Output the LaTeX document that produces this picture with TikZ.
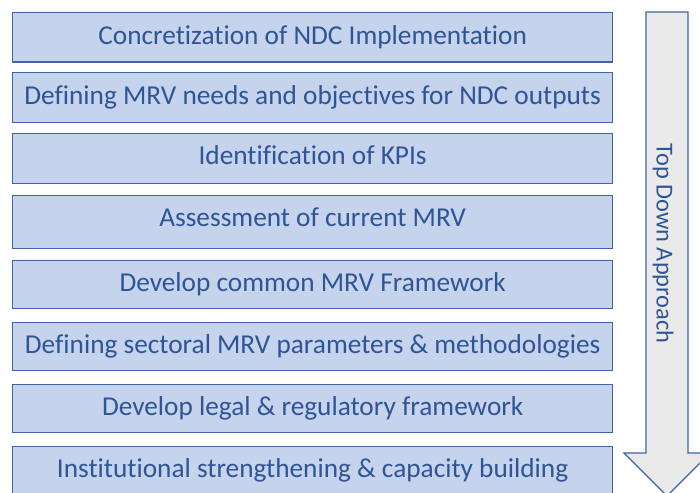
\documentclass[tikz,border=0pt]{standalone}
\usepackage{fontspec}
\setmainfont{Carlito}[Ligatures={NoCommon}]
\definecolor{boxfill}{HTML}{C5D3EC}
\definecolor{boxdraw}{HTML}{3F64A5}
\definecolor{txt}{HTML}{2F5597}
\definecolor{arrfill}{HTML}{EAEAEA}
\begin{document}
\begin{tikzpicture}[x=1pt,y=-1pt,
  stepbox/.style={draw=boxdraw,fill=boxfill,line width=1.3pt,minimum width=600pt,text=txt,font=\fontsize{27.3}{30}\selectfont,anchor=north west,inner sep=0pt}]
\useasboundingbox (0,0) rectangle (700,492);
\begin{scope}
\clip (0,0) rectangle (700,492);
\node[stepbox,minimum height=49.5pt] (b1) at (12,12) {Concretization of NDC Implementation};
\node[stepbox,minimum height=49.5pt] (b2) at (12,72) {Defining MRV needs and objectives for NDC outputs};
\node[stepbox,minimum height=49.5pt,text depth=6.5pt] (b3) at (12,133) {Identification of KPIs};
\node[stepbox,minimum height=53pt,text depth=8.5pt] (b4) at (12,194.5) {Assessment of current MRV};
\node[stepbox,minimum height=48pt] (b5) at (12,259.5) {Develop common MRV Framework};
\node[stepbox,minimum height=48pt] (b6) at (12,321.5) {Defining sectoral MRV parameters \& methodologies};
\node[stepbox,minimum height=48pt] (b7) at (12,383.5) {Develop legal \& regulatory framework};
\node[stepbox,minimum height=48pt] (b8) at (12,445.5) {Institutional strengthening \& capacity building};
\draw[draw=boxdraw,fill=arrfill,line width=1.3pt] (646,12) -- (688,12) -- (688,453) -- (710,453) -- (667,496) -- (624,453) -- (646,453) -- cycle;
\end{scope}
\node[rotate=-90,text=txt,font=\fontsize{24.4}{28}\selectfont,inner sep=0pt] (arr) at (663,243.5) {Top Down Approach};
\end{tikzpicture}
\end{document}
